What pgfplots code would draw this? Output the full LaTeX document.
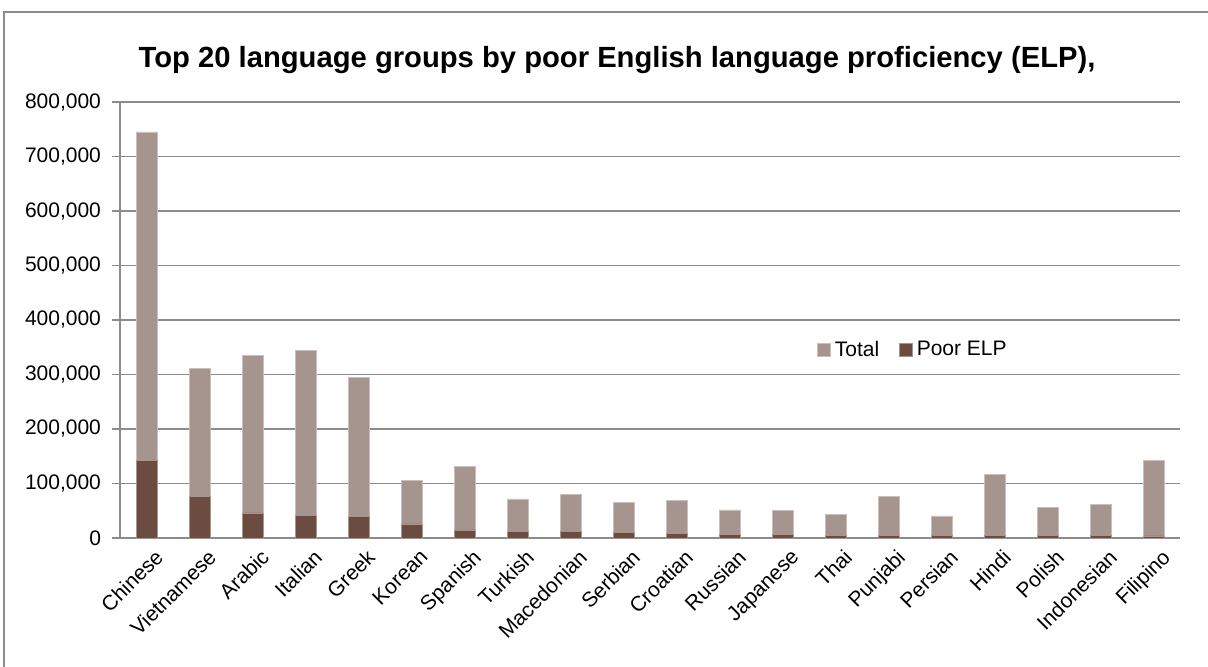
\documentclass[border=0pt]{standalone}
\usepackage{pgfplots}
\pgfplotsset{compat=1.18}
\usepackage{pgfplotstable}
\usepackage{fontspec}
\setmainfont{Liberation Sans}
\definecolor{totalc}{HTML}{A6958E}
\definecolor{poorc}{HTML}{6C4C40}
\definecolor{gridc}{HTML}{8C8C8C}
\definecolor{framec}{HTML}{8C8C8C}
\pgfplotstableread{
x total poor
0 745000 143000
1 311000 76000
2 335000 46000
3 344000 42000
4 295000 40000
5 106000 26000
6 132000 15000
7 71600 11600
8 80000 11600
9 64800 9800
10 69700 7900
11 51400 7300
12 50800 6700
13 43400 5500
14 77000 5500
15 40400 5500
16 117000 5500
17 56300 5000
18 61000 4500
19 141800 4000
}\datatable
\begin{document}
\begin{tikzpicture}
\useasboundingbox (0,0) rectangle (604pt,333pt);
\draw[framec, line width=0.8pt] (2pt,-10pt) rectangle (640pt,327pt);
\node[font=\fontsize{14.6}{17}\selectfont\bfseries] at (308.5pt,303pt) {Top 20 language groups by poor English language proficiency (ELP),};
\begin{axis}[
  at={(60pt,64pt)}, anchor=south west,
  scale only axis, width=530pt, height=218pt,
  xmin=-0.5, xmax=19.5, ymin=0, ymax=800000,
  axis lines=left, axis line style={gridc, line width=0.75pt, -},
  ytick={0,100000,...,800000},
  scaled y ticks=false,
  /pgf/number format/.cd, fixed, 1000 sep={,}, assume math mode=true, /pgfplots/.cd,
  yticklabel style={font=\fontsize{10.5}{12}\selectfont, xshift=-2pt},
  ymajorgrids, grid style={gridc, line width=0.75pt},
  major tick style={gridc, line width=0.75pt},
  tick align=outside, major tick length=4pt,
  xtick={0,...,19},
  x tick style={draw=none},
  minor xtick={-0.5,0.5,...,19.5},
  minor x tick style={gridc, line width=0.75pt},
  minor tick length=4pt,
  xticklabels={Chinese,Vietnamese,Arabic,Italian,Greek,Korean,Spanish,Turkish,Macedonian,Serbian,Croatian,Russian,Japanese,Thai,Punjabi,Persian,Hindi,Polish,Indonesian,Filipino},
  xticklabel style={font=\fontsize{10.5}{12}\selectfont, rotate=45, anchor=north east, inner sep=1pt, xshift=3pt, yshift=-2pt},
  ybar, bar width=10.5pt, bar shift=0pt,
  legend style={at={(0.749,0.431)}, anchor=center, draw=none, fill=none, legend columns=2,
    font=\fontsize{10.5}{12}\selectfont, /tikz/every even column/.append style={column sep=8pt}},
  legend image code/.code={\fill[#1] (0pt,-3.2pt) rectangle (6.5pt,3.2pt);},
]
\addplot[fill=totalc, draw=totalc!60!white, line width=0.3pt] table[x=x, y=total] {\datatable};
\addlegendentry{Total}
\addplot[fill=poorc, draw=poorc!60!white, line width=0.3pt] table[x=x, y=poor] {\datatable};
\addlegendentry{Poor ELP}
\end{axis}
\end{tikzpicture}
\end{document}
